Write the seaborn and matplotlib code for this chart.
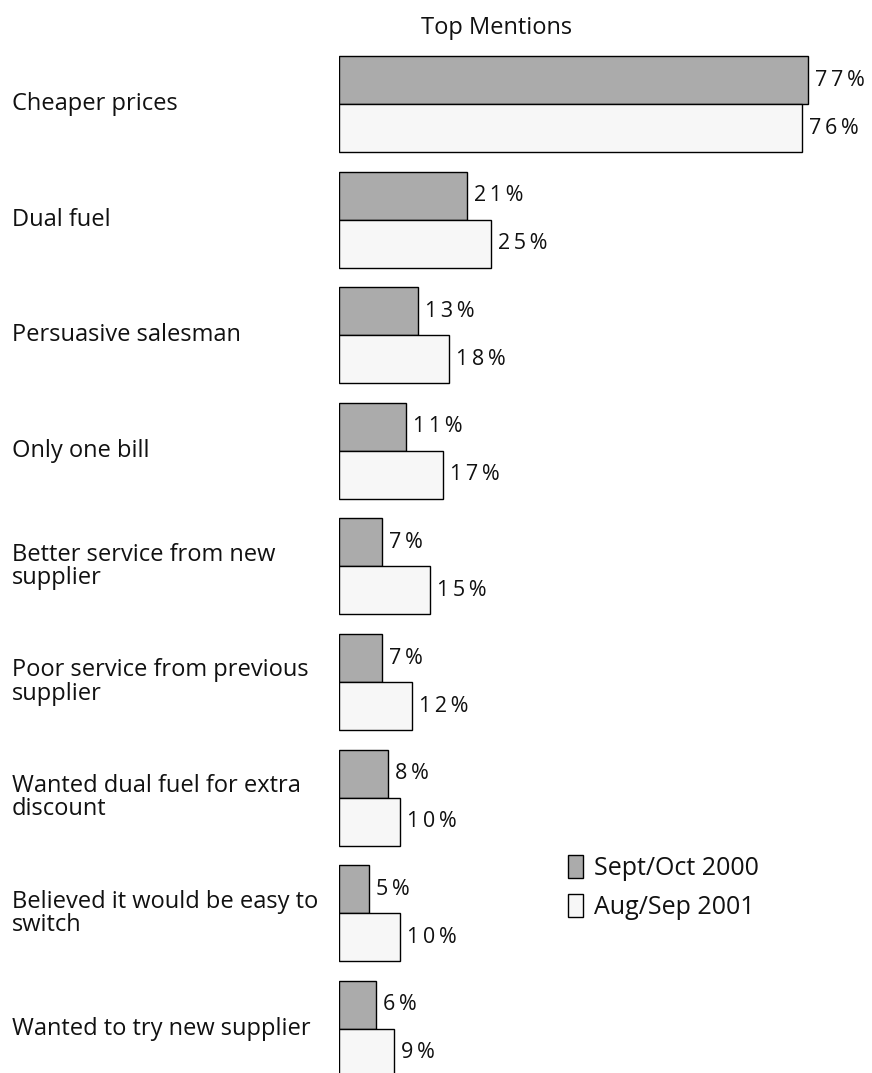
import matplotlib
matplotlib.use("Agg")
import matplotlib.pyplot as plt
import matplotlib.transforms as mtransforms
import seaborn as sns
import pandas as pd

# Data
reasons = [
    "Cheaper prices",
    "Dual fuel",
    "Persuasive salesman",
    "Only one bill",
    "Better service from new\nsupplier",
    "Poor service from previous\nsupplier",
    "Wanted dual fuel for extra\ndiscount",
    "Believed it would be easy to\nswitch",
    "Wanted to try new supplier",
]
periods = ["Sept/Oct 2000", "Aug/Sep 2001"]
sept_oct_2000 = [77, 21, 13, 11, 7, 7, 8, 5, 6]
aug_sep_2001 = [76, 25, 18, 17, 15, 12, 10, 10, 9]
colors = ["#ababab", "#f7f7f7"]

df = pd.DataFrame({
    "reason": reasons * 2,
    "period": [periods[0]] * len(reasons) + [periods[1]] * len(reasons),
    "value": sept_oct_2000 + aug_sep_2001,
})

sns.set_style("white")
plt.rcParams["font.family"] = ["Open Sans", "DejaVu Sans"]

fig = plt.figure(figsize=(8.72, 10.73), dpi=100)
ax = fig.add_axes([339 / 872, 0, (857 - 339) / 872, 1])

sns.barplot(data=df, x="value", y="reason", hue="period", orient="h",
            palette=colors, edgecolor="black", linewidth=1.0, width=0.83,
            order=reasons, hue_order=periods, ax=ax)

ax.set_xlim(0, 85)
ax.set_ylim(8.382, -0.9)
sns.despine(ax=ax, left=True, bottom=True)
ax.set_xticks([])
ax.set_yticks([])
ax.set_xlabel("")
ax.set_ylabel("")


def spaced(v):
    # reference prints the percentages with wide letter spacing
    return "\u2009".join(f"{int(v)}%")


# value labels
for cont in ax.containers:
    ax.bar_label(cont, labels=[spaced(v) for v in cont.datavalues],
                 padding=5, fontsize=15.5, color="#111111")

# category labels on the left
trans = mtransforms.blended_transform_factory(fig.transFigure, ax.transData)
for i, r in enumerate(reasons):
    fig.text(12 / 872, i, r, fontsize=17, ha="left", va="center",
             transform=trans, linespacing=0.97, color="#111111")

fig.text(497 / 872, 1 - 28 / 1073, "Top Mentions", fontsize=17, ha="center",
         va="center", color="#111111")

handles, labels = ax.get_legend_handles_labels()
leg = ax.legend(handles, labels, loc="upper left",
                bbox_to_anchor=(568 / 872, 1 - 855 / 1073),
                bbox_transform=fig.transFigure, frameon=False, fontsize=18,
                borderpad=0, borderaxespad=0, handlelength=0.6,
                handleheight=1.05, handletextpad=0.45, labelspacing=0.5)
for t in leg.get_texts():
    t.set_color("#111111")

fig.savefig("out.png", dpi=100)
